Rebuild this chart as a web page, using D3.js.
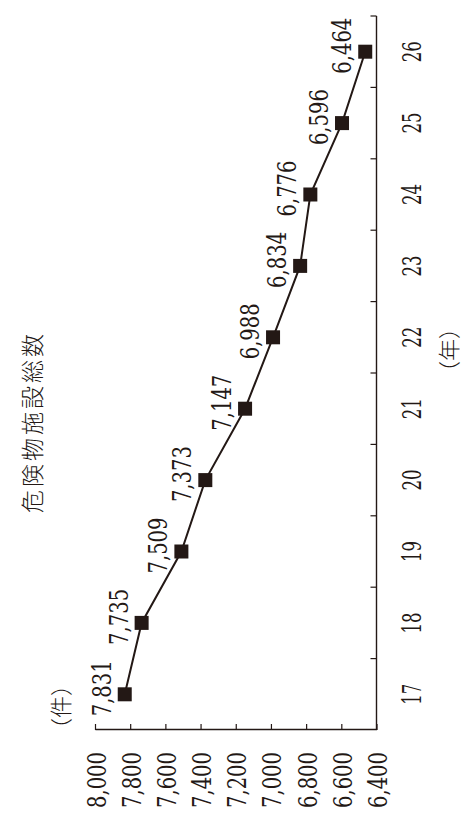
<!DOCTYPE html>
<html><head><meta charset="utf-8">
<script src="https://cdn.jsdelivr.net/npm/d3@7"></script>
<style>
html,body{margin:0;padding:0;background:#fff;}
svg{display:block;}
.num{font-family:"DejaVu Serif","Liberation Serif",serif;}
.jp{font-family:"Noto Sans CJK JP",sans-serif;}
</style></head>
<body>
<svg id="chart" width="464" height="815"></svg>
<script>
const years = ["17","18","19","20","21","22","23","24","25","26"];
const facilities = [7831, 7735, 7509, 7373, 7147, 6988, 6834, 6776, 6596, 6464];
const valueTicks = [6400, 6600, 6800, 7000, 7200, 7400, 7600, 7800, 8000];
const title = "危険物施設総数";
const yUnit = "（件）";
const xUnit = "（年）";

const W = 815, H = 464; // unrotated
const ink = "#231815";

const svg = d3.select("#chart");
const g = svg.append("g").attr("transform", `translate(0,${W}) rotate(-90)`);

const x = d3.scaleBand().domain(years).range([85, 799]);
const y = d3.scaleLinear().domain([6400, 8000]).range([376.5, 95]);

// left (value) axis
const yAxis = d3.axisLeft(y).tickValues(valueTicks).tickSize(-6).tickSizeOuter(0)
  .tickPadding(22).tickFormat(d3.format(","));
const ya = g.append("g").attr("transform", "translate(85,0)").call(yAxis);
ya.attr("font-family", null).attr("font-size", null);
ya.select(".domain").attr("stroke", ink).attr("stroke-width", 1.4);
ya.selectAll(".tick line").attr("stroke", ink).attr("stroke-width", 1.2);
ya.selectAll(".tick text")
  .attr("class", "num").style("font-size", "26px").attr("fill", ink)
  .attr("dy", 10)
  .attr("textLength", d => d3.format(",")(d).length * 11.2)
  .attr("lengthAdjust", "spacingAndGlyphs");

// bottom (year) axis: labels at band centres
const xAxis = d3.axisBottom(x).tickSize(0).tickPadding(0);
const xa = g.append("g").attr("transform", `translate(0,${y(6400)})`).call(xAxis);
xa.attr("font-family", null).attr("font-size", null);
xa.select(".domain").attr("stroke", ink).attr("stroke-width", 1.4).attr("d", `M${x.range()[0]},0H${x.range()[1]}`);
xa.selectAll(".tick text")
  .attr("class", "num").style("font-size", "26px").attr("fill", ink)
  .attr("y", 0).attr("dy", 421 - y(6400))
  .attr("textLength", d => d.length * 10.5)
  .attr("lengthAdjust", "spacingAndGlyphs");
// tick marks at band boundaries (inward)
const bounds = years.map(d => x(d)).concat([x.range()[1]]);
xa.selectAll(".bound").data(bounds.slice(1)).join("line")
  .attr("class", "bound")
  .attr("x1", d => d).attr("x2", d => d)
  .attr("y1", 0).attr("y2", -6)
  .attr("stroke", ink).attr("stroke-width", 1.2);

// line
const cx = d => x(d) + x.bandwidth() / 2;
const data = years.map((yr, i) => ({yr, v: facilities[i]}));
g.append("path").datum(data)
  .attr("fill", "none").attr("stroke", ink).attr("stroke-width", 2)
  .attr("d", d3.line().x(d => cx(d.yr)).y(d => y(d.v)));

// markers
const ms = 14;
g.selectAll(".mk").data(data).join("rect")
  .attr("class", "mk")
  .attr("x", d => cx(d.yr) - ms / 2).attr("y", d => y(d.v) - ms / 2)
  .attr("width", ms).attr("height", ms).attr("fill", ink);

// data labels
g.selectAll(".lbl").data(data).join("text")
  .attr("class", "lbl num")
  .attr("x", d => cx(d.yr) + 6).attr("y", d => y(d.v) - 14)
  .attr("text-anchor", "middle")
  .style("font-size", "26px").attr("fill", ink)
  .attr("textLength", d => d3.format(",")(d.v).length * 11.2)
  .attr("lengthAdjust", "spacingAndGlyphs")
  .text(d => d3.format(",")(d.v));

// title
g.append("text").attr("class", "jp").attr("x", 393).attr("y", 41)
  .attr("text-anchor", "middle")
  .style("font-weight", 300).style("font-size", "23px")
  .attr("letter-spacing", 3).attr("fill", ink)
  .text(title);

// unit labels
g.append("text").attr("class", "jp").attr("x", 108).attr("y", 69)
  .attr("text-anchor", "middle")
  .style("font-weight", 300).style("font-size", "22px").attr("fill", ink)
  .text(yUnit);
g.append("text").attr("class", "jp").attr("x", 465).attr("y", 457)
  .attr("text-anchor", "middle")
  .style("font-weight", 300).style("font-size", "22px").attr("fill", ink)
  .text(xUnit);
</script>
</body></html>
